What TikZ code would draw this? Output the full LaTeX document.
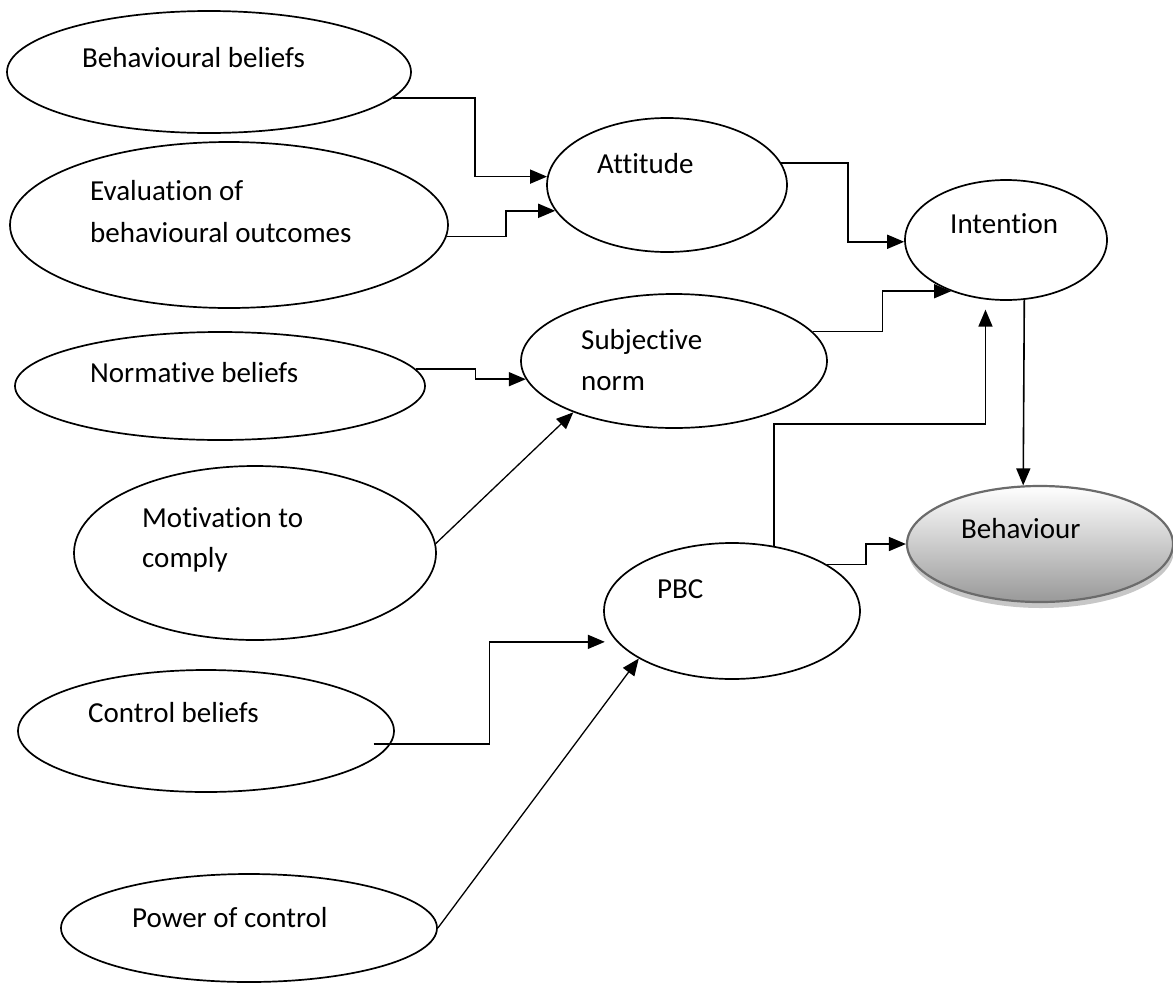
\documentclass[tikz,border=0pt]{standalone}
\usepackage{fontspec}
\setmainfont{Carlito}[Ligatures=CommonOff]
\usetikzlibrary{shapes.geometric,arrows.meta,calc}
\begin{document}
\begin{tikzpicture}[x=1pt,y=-1pt,
  oval/.style={draw, ellipse, line width=1.7pt, inner sep=0pt},
  lbl/.style={anchor=base west, inner sep=0pt, font=\fontsize{29}{35}\selectfont},
  arr/.style={line width=1.6pt, -{Triangle[length=17pt,width=14pt]}},
  thinarr/.style={line width=1.3pt, -{Triangle[length=17pt,width=14pt]}},
]
\useasboundingbox (0,0) rectangle (1173,983);

% ellipses
\node[oval, minimum width=404pt, minimum height=122pt] (bb)  at (209,72)  {};
\node[oval, minimum width=438pt, minimum height=166pt] (ev)  at (229,225) {};
\node[oval, minimum width=240pt, minimum height=134pt] (att) at (667,185) {};
\node[oval, minimum width=202pt, minimum height=120pt] (int) at (1006,240) {};
\node[oval, minimum width=306pt, minimum height=134pt] (sn)  at (674,361) {};
\node[oval, minimum width=410pt, minimum height=108pt] (nb)  at (220,386) {};
\node[oval, minimum width=362pt, minimum height=174pt] (mc)  at (255,553) {};
\node[oval, minimum width=256pt, minimum height=136pt] (pbc) at (732,611) {};
\node[oval, minimum width=376pt, minimum height=122pt] (cb)  at (206,731) {};
\node[oval, minimum width=376pt, minimum height=108pt] (pc)  at (249,928) {};
% behaviour (shaded)
\node[ellipse, inner sep=0pt, fill=black!22, minimum width=266pt, minimum height=116pt] (behshadow) at (1041,550) {};
\node[ellipse, inner sep=0pt, draw=black!58, line width=2.2pt, top color=white, bottom color=black!40,
      minimum width=266pt, minimum height=116pt] (beh) at (1040,544) {};

% labels
\node[lbl] (tbb)  at (82,67)   {Behavioural beliefs};
\node[lbl] (tev1) at (90,200)  {Evaluation of};
\node[lbl] (tev2) at (90,242)  {behavioural outcomes};
\node[lbl] (tatt) at (597,173) {Attitude};
\node[lbl] (tint) at (950,233) {Intention};
\node[lbl] (tsn1) at (581,349) {Subjective};
\node[lbl] (tsn2) at (581,390) {norm};
\node[lbl] (tnb)  at (90,382)  {Normative beliefs};
\node[lbl] (tmc1) at (142,527) {Motivation to};
\node[lbl] (tmc2) at (142,567) {comply};
\node[lbl] (tpbc) at (657,598) {PBC};
\node[lbl] (tbeh) at (961,538) {Behaviour};
\node[lbl] (tcb)  at (88,722)  {Control beliefs};
\node[lbl] (tpc)  at (132,927) {Power of control};

% connectors
\draw[arr] (bb.-8.3) -- ++(82,0) |- (att.176.6);
\draw[arr] (ev.-3.9) -- ++(59,0) |- (att.193.8);
\draw[arr] (att.11.5) -- ++(67,0) |- (int.181);
\draw[arr] (sn.12.8) -- ++(70,0) |- (int.223.4);
\draw[arr, shorten >=10pt] (pbc.57.5) -- ++(0,-122) -| (int.251.2);
\draw[arr] (int.-73) -- (beh.106.5);
\draw[arr] (pbc.26.8) -- ++(39,0) |- (beh.west);
\draw[arr] (nb.5) -- ++(60,0) |- (sn.187);
\draw[thinarr] (mc.3.2) -- (sn.207.7);
\draw[arr, shorten >=12pt] ([xshift=-17pt]cb.-4) -- ++(116,0) |- (pbc.195.8);
\draw[thinarr] (pc.east) -- (pbc.207.9);
\end{tikzpicture}
\end{document}
